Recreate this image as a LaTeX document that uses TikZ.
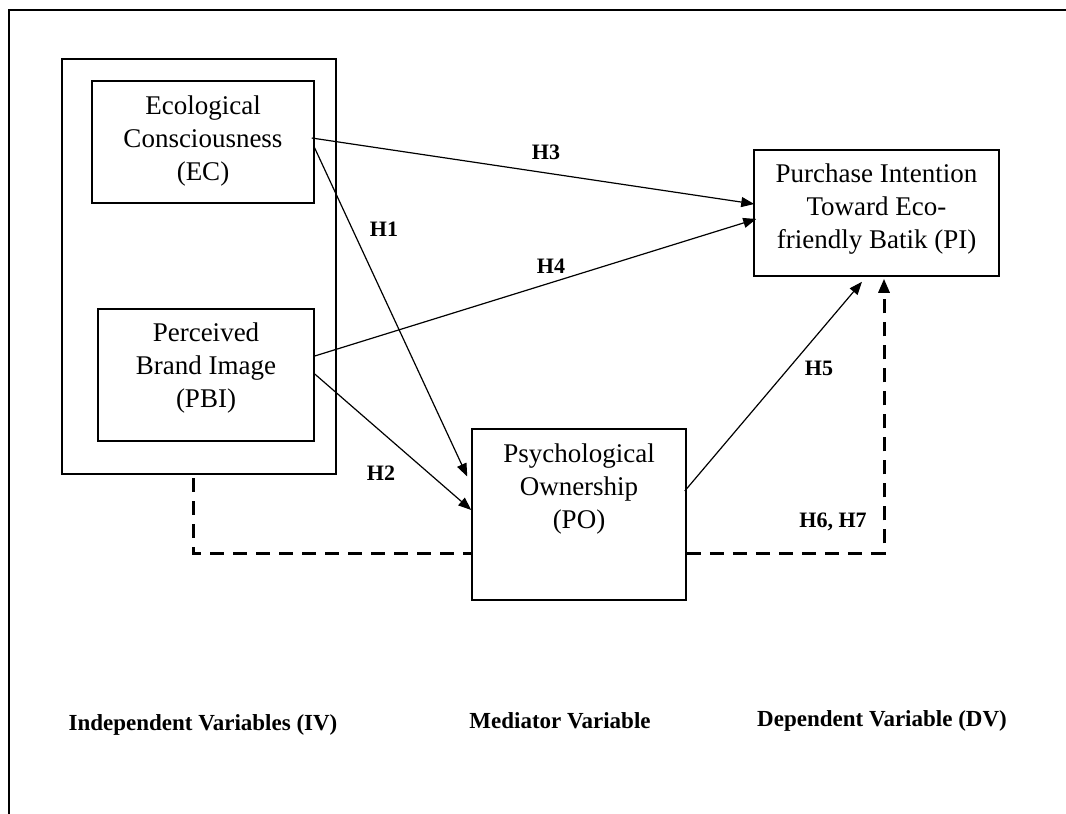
\documentclass[tikz,border=0pt]{standalone}
\usepackage{fontspec}
\setmainfont{Liberation Serif}
\usetikzlibrary{arrows.meta,calc}
\begin{document}
\begin{tikzpicture}[x=1pt,y=-1pt,
  box/.style={draw,line width=1.5pt,inner sep=0pt},
  boxtext/.style={align=center,font=\fontsize{27}{33}\selectfont},
  arr/.style={line width=1.2pt,-{Triangle[length=13pt,width=10pt]}},
  dashline/.style={line width=3pt,dash pattern=on 14pt off 9pt},
  dasharr/.style={dashline,-{Triangle[length=14pt,width=11pt]}},
  hlab/.style={font=\fontsize{22}{26}\selectfont\bfseries},
  bottomlab/.style={font=\fontsize{23}{27}\selectfont\bfseries}]
\useasboundingbox (0,0) rectangle (1066,814);
\fill[white] (0,0) rectangle (1066,814);
\draw[line width=2pt] (9,814) -- (9,10) -- (1066,10);

% boxes
\node[box,minimum width=274pt,minimum height=415pt] (iv) at (199,266.5) {};
\node[box,minimum width=222pt,minimum height=122pt] (ec) at (203,142) {};
\node[boxtext] (ectext) at (203,141.5) {Ecological\\Consciousness\\(EC)};
\node[box,minimum width=216pt,minimum height=132pt] (pbi) at (206,375) {};
\node[boxtext] (pbitext) at (206,368.5) {Perceived\\Brand Image\\(PBI)};
\node[box,minimum width=214pt,minimum height=171pt] (po) at (579,514.5) {};
\node[boxtext] (potext) at (579,489) {Psychological\\Ownership\\(PO)};
\node[box,minimum width=245pt,minimum height=126pt] (pi) at (876.5,213) {};
\node[boxtext] (pitext) at (876.5,209) {Purchase Intention\\Toward Eco-\\friendly Batik (PI)};

% arrows
\draw[arr] ($(ec.east)+(-3,-4)$) -- ($(pi.west)+(1,-9)$);
\draw[arr] ($(pbi.east)+(0,-19)$) -- ($(pi.west)+(3,6)$);
\draw[arr] ($(ec.east)+(-1,4)$) -- ($(po.west)+(-4,-38)$);
\draw[arr] ($(pbi.east)+(0,-1)$) -- ($(po.west)+(0,-4.5)$);
\draw[arr] ($(po.east)+(-2,-23.5)$) -- ($(pi.south)+(-14.5,5)$);

% dashed paths
\coordinate (d1) at (193,478);
\coordinate (d2) at (193,553);
\coordinate (d3) at (884,553);
\draw[dashline] (d1) -- (d2) -- (d2 -| po.west);
\draw[dasharr] (po.east |- d3) -- (d3) -- ($(d3 |- pi.south)+(0,2)$);

% labels
\node[hlab] (h3) at (546,152) {H3};
\node[hlab] (h1) at (384,229) {H1};
\node[hlab] (h4) at (551,266) {H4};
\node[hlab] (h2) at (381,473) {H2};
\node[hlab] (h5) at (819,368) {H5};
\node[hlab] (h67) at (833,522) {H6, H7};

\node[bottomlab] (ivlab) at (203,725) {Independent Variables (IV)};
\node[bottomlab] (mvlab) at (560,721) {Mediator Variable};
\node[bottomlab] (dvlab) at (882,721) {Dependent Variable (DV)};
\end{tikzpicture}
\end{document}
